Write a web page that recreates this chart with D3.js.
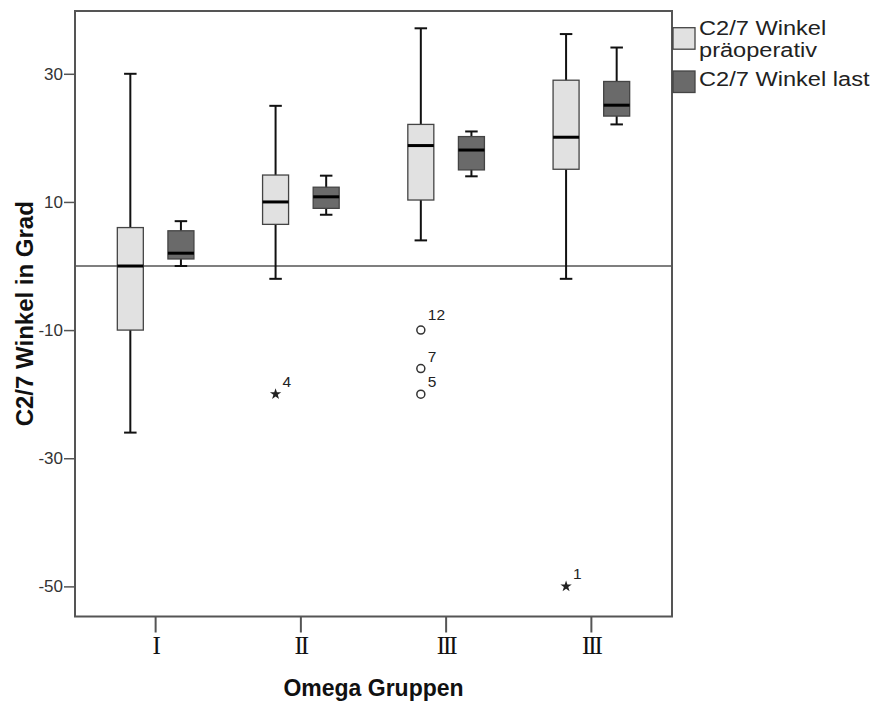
<!DOCTYPE html>
<html>
<head>
<meta charset="utf-8">
<script src="https://cdn.jsdelivr.net/npm/d3@7"></script>
<style>
  body { margin: 0; background: #fff; }
  svg { display: block; }
</style>
</head>
<body>
<div id="chart"></div>
<script>
// data
const groups = ["I", "II", "III", "III"];
const seriesNames = ["C2/7 Winkel präoperativ", "C2/7 Winkel last"];
const legendLines = [["C2/7 Winkel", "präoperativ"], ["C2/7 Winkel last"]];

const praeLow  = [-26, -2, 4, -2];
const praeQ1   = [-10, 6.5, 10.3, 15.1];
const praeMed  = [0, 10, 18.8, 20.1];
const praeQ3   = [6, 14.2, 22.1, 29];
const praeHigh = [30, 25, 37.1, 36.2];

const lastLow  = [0, 8, 14, 22.1];
const lastQ1   = [1.1, 9, 15, 23.4];
const lastMed  = [2, 10.8, 18.1, 25.1];
const lastQ3   = [5.5, 12.3, 20.2, 28.8];
const lastHigh = [7, 14.1, 21, 34.1];

// outliers (all belong to "präoperativ")
const outGroup = [1, 2, 2, 2, 3];
const outValue = [-20, -10, -16, -20, -50];
const outLabel = ["4", "12", "7", "5", "1"];
const outKind  = ["star", "circle", "circle", "circle", "star"];

const yTicks = [30, 10, -10, -30, -50];
const yDomain = [-54.7, 39.8];

const width = 877, height = 702;
const plot = {left: 75, right: 672, top: 11, bottom: 616.5};
const fills = ["#e1e1e1", "#6a6a6a"];

const svg = d3.select("#chart").append("svg")
    .attr("width", width)
    .attr("height", height)
    .style("font-family", "'Liberation Sans', Arial, sans-serif");

const y = d3.scaleLinear().domain(yDomain).range([plot.bottom, plot.top]);
const x = d3.scaleBand().domain(d3.range(groups.length)).range([plot.left + 8, plot.right - 8]);
const xs = d3.scalePoint().domain([0, 1]).range([-25.3, 25.3]);
const boxW = 26, capW = 12.5;
const cx = (g, s) => x(g) + x.bandwidth() / 2 + xs(s);

// build box table from the arrays
const boxes = [];
groups.forEach((g, i) => {
    boxes.push({g: i, s: 0, low: praeLow[i], q1: praeQ1[i], med: praeMed[i], q3: praeQ3[i], high: praeHigh[i]});
    boxes.push({g: i, s: 1, low: lastLow[i], q1: lastQ1[i], med: lastMed[i], q3: lastQ3[i], high: lastHigh[i]});
});

// y axis (plain hyphen minus like the original)
const yAxis = svg.append("g")
    .attr("transform", "translate(" + plot.left + ",0)")
    .call(d3.axisLeft(y).tickValues(yTicks).tickSize(11).tickPadding(1).tickFormat(d => String(d)));
yAxis.select(".domain").remove();
yAxis.selectAll("line").attr("stroke", "#555").attr("stroke-width", 1.5);
yAxis.selectAll("text").attr("fill", "#333").style("font-size", "17px").style("font-family", "'Liberation Sans', Arial, sans-serif");

// x axis
const xAxis = svg.append("g")
    .attr("transform", "translate(0," + plot.bottom + ")")
    .call(d3.axisBottom(x).tickSize(16).tickPadding(4).tickFormat(i => groups[i]));
xAxis.select(".domain").remove();
xAxis.selectAll("line").attr("stroke", "#555").attr("stroke-width", 2);
xAxis.selectAll("text").attr("fill", "#111").style("font-size", "25px")
    .style("letter-spacing", "-2px")
    .style("font-family", "'Liberation Serif', 'DejaVu Serif', serif");

// frame
svg.append("rect")
    .attr("x", plot.left).attr("y", plot.top)
    .attr("width", plot.right - plot.left).attr("height", plot.bottom - plot.top)
    .attr("fill", "none").attr("stroke", "#555").attr("stroke-width", 2);

// reference line at 0
svg.append("line")
    .attr("x1", plot.left).attr("x2", plot.right)
    .attr("y1", y(0)).attr("y2", y(0))
    .attr("stroke", "#555").attr("stroke-width", 1.5);

// boxplots
const bp = svg.append("g").selectAll("g").data(boxes).join("g");
bp.append("line")
    .attr("x1", d => cx(d.g, d.s)).attr("x2", d => cx(d.g, d.s))
    .attr("y1", d => y(d.low)).attr("y2", d => y(d.high))
    .attr("stroke", "#111").attr("stroke-width", 2);
bp.selectAll(".cap").data(d => [d.low, d.high].map(v => ({v, d}))).join("line")
    .attr("x1", e => cx(e.d.g, e.d.s) - capW / 2).attr("x2", e => cx(e.d.g, e.d.s) + capW / 2)
    .attr("y1", e => y(e.v)).attr("y2", e => y(e.v))
    .attr("stroke", "#111").attr("stroke-width", 2);
bp.append("rect")
    .attr("x", d => cx(d.g, d.s) - boxW / 2)
    .attr("y", d => y(d.q3))
    .attr("width", boxW)
    .attr("height", d => y(d.q1) - y(d.q3))
    .attr("fill", d => fills[d.s])
    .attr("stroke", "#444").attr("stroke-width", 1.3);
bp.append("line")
    .attr("x1", d => cx(d.g, d.s) - boxW / 2).attr("x2", d => cx(d.g, d.s) + boxW / 2)
    .attr("y1", d => y(d.med)).attr("y2", d => y(d.med))
    .attr("stroke", "#000").attr("stroke-width", 3);

// outliers
const outliers = outValue.map((v, i) => ({g: outGroup[i], v, label: outLabel[i], kind: outKind[i]}));
const og = svg.append("g").selectAll("g").data(outliers).join("g")
    .attr("transform", d => "translate(" + cx(d.g, 0) + "," + y(d.v) + ")");
og.filter(d => d.kind === "circle").append("circle")
    .attr("r", 4).attr("fill", "none").attr("stroke", "#333").attr("stroke-width", 1.5);
og.filter(d => d.kind === "star").append("path")
    .attr("d", d3.symbol(d3.symbolStar, 40)).attr("fill", "#222");
og.append("text")
    .attr("x", 7).attr("y", d => d.label === "12" ? -10 : -7)
    .attr("fill", "#222").style("font-size", "15.5px")
    .text(d => d.label);

// stretch helper, text in the picture is a bit wide
const widen = (sel, k) => sel.each(function() {
    const w = this.getComputedTextLength();
    d3.select(this).attr("textLength", w * k).attr("lengthAdjust", "spacingAndGlyphs");
});

// legend
const lg = svg.append("g").attr("transform", "translate(" + (plot.right + 1) + ",0)");
const swTop = [27.7, 71];
const lineY = [[34.5, 57], [86]];
seriesNames.forEach((n, i) => {
    lg.append("rect")
        .attr("x", 0).attr("y", swTop[i]).attr("width", 22).attr("height", 21.5)
        .attr("fill", fills[i]).attr("stroke", "#444").attr("stroke-width", 1.3);
    legendLines[i].forEach((line, j) => {
        lg.append("text").attr("x", 26).attr("y", lineY[i][j])
            .attr("fill", "#222").style("font-size", "20px").text(line)
            .call(widen, 1.18);
    });
});

// axis titles
svg.append("text")
    .attr("x", (plot.left + plot.right) / 2).attr("y", 696)
    .attr("text-anchor", "middle").attr("fill", "#111")
    .style("font-size", "23px").style("font-weight", "bold")
    .text("Omega Gruppen");

svg.append("text")
    .attr("transform", "translate(33," + (plot.top + plot.bottom) / 2 + ") rotate(-90)")
    .attr("text-anchor", "middle").attr("fill", "#111")
    .style("font-size", "24px").style("font-weight", "bold")
    .text("C2/7 Winkel in Grad");
</script>
</body>
</html>
